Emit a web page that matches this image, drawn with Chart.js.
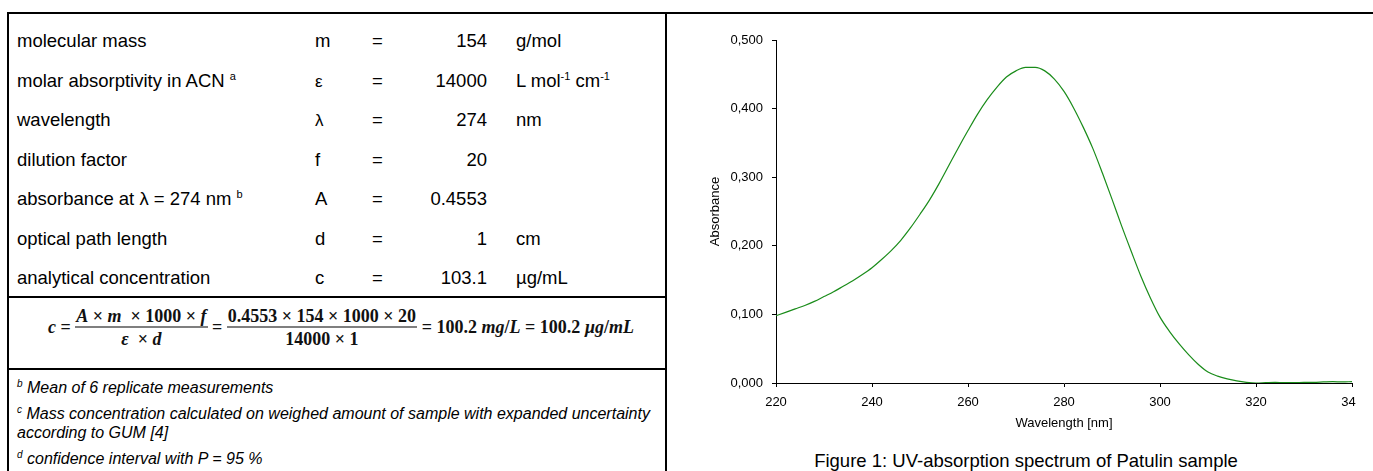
<!DOCTYPE html>
<html>
<head>
<meta charset="utf-8">
<script src="https://cdn.jsdelivr.net/npm/chart.js@4.4.1/dist/chart.umd.min.js"></script>
<style>
  body{margin:0;width:1373px;height:471px;position:relative;overflow:hidden;background:#fff;font-family:"Liberation Sans",Arial,sans-serif;color:#000}
  .ln{position:absolute;background:#000}
  .r{position:absolute;line-height:22px;font-size:18.5px;white-space:nowrap}
  .sup{font-size:11px;position:relative;top:-7px}
  .fn{position:absolute;left:17px;line-height:20px;font-size:16px;font-style:italic;white-space:nowrap}
  .fn .s{font-size:10px;position:relative;top:-6px}
  .formula{position:absolute;left:48px;top:327px;transform:translateY(-50%);display:flex;align-items:center;white-space:pre;font-family:"Liberation Serif","Times New Roman",serif;font-size:18px;font-weight:bold;color:#111}
  .frac{display:inline-flex;flex-direction:column;align-items:center}
  .num{border-bottom:1.5px solid #000;line-height:22px;padding:0 1px}
  .den{line-height:22px}
  #wrap{position:absolute;left:700px;top:0;width:656px;height:471px;overflow:hidden}
  #chart{position:absolute;left:0;top:0}
  .cap{position:absolute;left:726px;width:600px;top:450px;line-height:22px;font-size:18.5px;text-align:center;white-space:nowrap}
</style>
</head>
<body>
<div class="ln" style="left:7px;top:12px;width:1366px;height:2px"></div>
<div class="ln" style="left:7px;top:12px;width:2px;height:459px"></div>
<div class="ln" style="left:665px;top:12px;width:2px;height:459px"></div>
<div class="ln" style="left:7px;top:296px;width:660px;height:2px"></div>
<div class="ln" style="left:7px;top:368px;width:660px;height:2px"></div>

<div class="r" style="left:17px;top:30px">molecular mass</div>
<div class="r" style="left:315px;top:30px">m</div>
<div class="r" style="left:372px;top:30px">=</div>
<div class="r" style="left:387px;width:100px;text-align:right;top:30px">154</div>
<div class="r" style="left:516px;top:30px">g/mol</div>

<div class="r" style="left:17px;top:69.5px">molar absorptivity in ACN <span class="sup">a</span></div>
<div class="r" style="left:315px;top:71px;font-size:17px">ε</div>
<div class="r" style="left:372px;top:69.5px">=</div>
<div class="r" style="left:387px;width:100px;text-align:right;top:69.5px">14000</div>
<div class="r" style="left:516px;top:69.5px">L mol<span class="sup">-1</span> cm<span class="sup">-1</span></div>

<div class="r" style="left:17px;top:109px">wavelength</div>
<div class="r" style="left:315px;top:110px;font-size:17px">λ</div>
<div class="r" style="left:372px;top:109px">=</div>
<div class="r" style="left:387px;width:100px;text-align:right;top:109px">274</div>
<div class="r" style="left:516px;top:109px">nm</div>

<div class="r" style="left:17px;top:148.5px">dilution factor</div>
<div class="r" style="left:315px;top:148.5px">f</div>
<div class="r" style="left:372px;top:148.5px">=</div>
<div class="r" style="left:387px;width:100px;text-align:right;top:148.5px">20</div>

<div class="r" style="left:17px;top:188px">absorbance at λ = 274 nm <span class="sup">b</span></div>
<div class="r" style="left:315px;top:188px">A</div>
<div class="r" style="left:372px;top:188px">=</div>
<div class="r" style="left:387px;width:100px;text-align:right;top:188px">0.4553</div>

<div class="r" style="left:17px;top:227.5px">optical path length</div>
<div class="r" style="left:315px;top:227.5px">d</div>
<div class="r" style="left:372px;top:227.5px">=</div>
<div class="r" style="left:387px;width:100px;text-align:right;top:227.5px">1</div>
<div class="r" style="left:516px;top:227.5px">cm</div>

<div class="r" style="left:17px;top:267px">analytical concentration</div>
<div class="r" style="left:315px;top:267px">c</div>
<div class="r" style="left:372px;top:267px">=</div>
<div class="r" style="left:387px;width:100px;text-align:right;top:267px">103.1</div>
<div class="r" style="left:516px;top:267px">µg/mL</div>

<div class="formula"><i>c</i> = <span class="frac"><span class="num"><i>A</i> × <i>m</i>  × 1000 × <i>f</i></span><span class="den"><i>ε</i>  × <i>d</i></span></span> = <span class="frac"><span class="num">0.4553 × 154 × 1000 × 20</span><span class="den">14000 × 1</span></span> = 100.2 <i>mg</i>/<i>L</i> = 100.2 <i>µg</i>/<i>mL</i></div>

<div class="fn" style="top:378px"><span class="s">b</span> Mean of 6 replicate measurements</div>
<div class="fn" style="top:404px"><span class="s">c</span>  Mass concentration calculated on weighed amount of sample with expanded uncertainty</div>
<div class="fn" style="top:423px">according to GUM [4]</div>
<div class="fn" style="top:449px"><span class="s">d</span> confidence interval with P = 95 %</div>

<div id="wrap"><canvas id="chart" width="690" height="440"></canvas></div>
<div class="cap">Figure 1: UV-absorption spectrum of Patulin sample</div>

<script>
const wavelength = [220,222,224,226,228,230,232,234,236,238,240,242,244,246,248,250,252,254,256,258,
  260,262,264,266,268,270,272,274,276,278,280,282,284,286,288,290,292,294,296,298,
  300,302,304,306,308,310,312,314,316,318,320,322,324,326,328,330,332,334,336,338,340]
const absorbance = [0.098,0.103,0.108,0.113,0.119,0.126,0.133,0.141,0.149,0.158,0.168,0.180,0.193,0.208,0.226,0.246,0.267,0.291,0.317,0.343,
  0.368,0.392,0.413,0.431,0.446,0.455,0.460,0.460,0.455,0.443,0.425,0.401,0.373,0.342,0.306,0.268,0.229,0.192,0.156,0.124,
  0.096,0.075,0.057,0.041,0.027,0.016,0.010,0.006,0.003,0.001,0.000,0.0005,0.001,0.0005,0.0005,0.001,0.001,0.0015,0.002,0.0015,0.002]
const xTicks = {min:220, max:340, step:20}
const yTicks = {min:0, max:0.5, step:0.1}

Chart.defaults.font.family = '"Liberation Sans", Arial, sans-serif'
Chart.defaults.font.size = 13
Chart.defaults.color = '#000'

const points = wavelength.map((w,i)=>({x:w, y:absorbance[i]}))

new Chart(document.getElementById('chart'), {
  type: 'line',
  data: { datasets: [{ data: points, borderColor: '#1a8c1a', borderWidth: 1.2, pointRadius: 0, cubicInterpolationMode: 'monotone', fill: false }] },
  options: {
    responsive: false,
    animation: false,
    layout: { padding: { left: 0, top: 40, right: 38, bottom: 9 } },
    plugins: { legend: {display:false}, tooltip: {enabled:false} },
    scales: {
      x: {
        type: 'linear', min: xTicks.min, max: xTicks.max,
        ticks: { stepSize: xTicks.step, padding: 8, maxRotation: 0 },
        grid: { drawOnChartArea: false, tickLength: 4, color: '#000' },
        border: { color: '#000' },
        title: { display: true, text: 'Wavelength [nm]', padding: {top:5, bottom:0} },
        afterFit: s => { s.height = 48 }
      },
      y: {
        min: yTicks.min, max: yTicks.max,
        ticks: { stepSize: yTicks.step, padding: 9, callback: v => v.toFixed(3).replace('.', ',') },
        grid: { drawOnChartArea: false, tickLength: 4, color: '#000' },
        border: { color: '#000' },
        title: { display: true, text: 'Absorbance', padding: {top:8, bottom:0} },
        afterFit: s => { s.width = 76 }
      }
    }
  }
})
</script>
</body>
</html>
